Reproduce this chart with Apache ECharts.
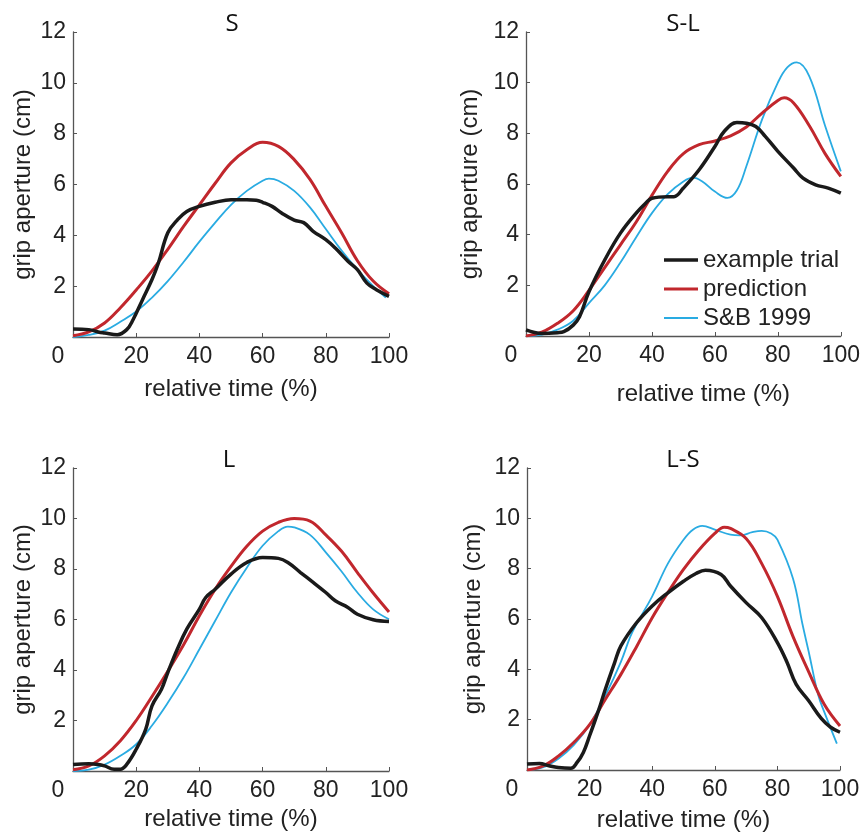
<!DOCTYPE html>
<html>
<head>
<meta charset="utf-8">
<script src="https://cdn.jsdelivr.net/npm/echarts@6/dist/echarts.min.js"></script>
<style>
  html, body { margin: 0; padding: 0; background: #fff; }
  #chart { width: 863px; height: 833px; }
</style>
</head>
<body>
<div id="chart"></div>
<script>
// panel titles
const panels = ["S", "S-L", "L", "L-S"];
const seriesNames = ["example trial", "prediction", "S&B 1999"];
const xTicks = [0, 20, 40, 60, 80, 100];
const yTicks = [2, 4, 6, 8, 10, 12];

// S
const sBlackT = [0, 5, 8, 10, 14, 17, 19, 22, 25, 27, 30, 33, 36, 40, 45, 50, 55, 58, 60, 63, 66, 70, 73, 76, 80, 83, 87, 90, 93, 96, 100];
const sBlackY = [0.31, 0.29, 0.2, 0.16, 0.09, 0.29, 0.68, 1.47, 2.26, 2.9, 4.1, 4.6, 4.94, 5.14, 5.3, 5.4, 5.4, 5.38, 5.3, 5.14, 4.88, 4.6, 4.5, 4.16, 3.83, 3.5, 2.98, 2.65, 2.12, 1.86, 1.6];
const sPredT = [0, 5, 10, 15, 20, 25, 30, 35, 40, 45, 50, 55, 60, 65, 70, 75, 80, 85, 90, 95, 100];
const sPredY = [0.05, 0.2, 0.55, 1.15, 1.85, 2.6, 3.45, 4.35, 5.2, 6.05, 6.85, 7.37, 7.66, 7.5, 6.98, 6.2, 5.14, 4.1, 3.0, 2.2, 1.7];
const sSbT = [0, 5, 10, 15, 20, 25, 30, 35, 40, 45, 50, 55, 60, 62, 65, 70, 75, 80, 85, 90, 95, 99];
const sSbY = [0, 0.08, 0.25, 0.6, 1.0, 1.55, 2.2, 2.95, 3.75, 4.5, 5.2, 5.75, 6.15, 6.23, 6.15, 5.75, 5.1, 4.25, 3.4, 2.65, 2.0, 1.55];

// S-L
const slBlackT = [0, 5, 10, 12, 15, 17, 20, 25, 30, 35, 38, 40, 45, 47, 50, 55, 60, 63, 67, 70, 73, 76, 80, 85, 88, 92, 96, 100];
const slBlackY = [0.24, 0.1, 0.13, 0.17, 0.43, 0.76, 1.75, 3.0, 4.06, 4.85, 5.24, 5.44, 5.5, 5.5, 5.84, 6.56, 7.48, 8.08, 8.43, 8.4, 8.27, 7.88, 7.29, 6.63, 6.23, 5.97, 5.84, 5.64];
const slPredT = [0, 5, 10, 15, 20, 25, 30, 35, 40, 45, 50, 55, 60, 65, 70, 75, 80, 82, 85, 90, 95, 100];
const slPredY = [0, 0.15, 0.5, 1.0, 1.8, 2.7, 3.6, 4.5, 5.55, 6.5, 7.2, 7.55, 7.7, 7.9, 8.25, 8.8, 9.3, 9.4, 9.2, 8.3, 7.2, 6.3];
const slSbT = [0, 5, 10, 15, 20, 25, 30, 35, 40, 45, 50, 53, 56, 60, 64, 67, 70, 75, 80, 83, 86, 90, 95, 100];
const slSbY = [0, 0.05, 0.25, 0.6, 1.3, 2.0, 2.9, 3.9, 4.85, 5.6, 6.1, 6.25, 6.1, 5.7, 5.45, 5.75, 6.7, 8.55, 10.0, 10.6, 10.8, 10.25, 8.3, 6.5];

// L
const lBlackT = [0, 5, 8, 10, 13, 15, 17, 20, 23, 25, 28, 30, 33, 36, 40, 42, 45, 50, 55, 60, 65, 68, 72, 76, 80, 83, 87, 90, 95, 100];
const lBlackY = [0.26, 0.29, 0.26, 0.2, 0.07, 0.07, 0.26, 0.86, 1.65, 2.58, 3.24, 3.9, 4.82, 5.62, 6.41, 6.87, 7.2, 7.8, 8.26, 8.46, 8.42, 8.26, 7.86, 7.47, 7.07, 6.74, 6.48, 6.21, 5.99, 5.92];
const lPredT = [0, 5, 10, 15, 20, 25, 30, 35, 40, 45, 50, 55, 60, 65, 70, 75, 80, 85, 90, 95, 100];
const lPredY = [0.05, 0.2, 0.6, 1.2, 2.0, 2.95, 3.95, 5.0, 6.15, 7.2, 8.1, 8.9, 9.5, 9.85, 10.0, 9.9, 9.35, 8.7, 7.86, 7.05, 6.3];
const lSbT = [0, 5, 10, 15, 20, 25, 30, 35, 40, 45, 50, 55, 60, 65, 68, 70, 75, 80, 85, 90, 95, 100];
const lSbY = [0, 0.05, 0.25, 0.6, 1.06, 1.8, 2.7, 3.7, 4.82, 5.95, 7.07, 8.05, 8.92, 9.5, 9.68, 9.65, 9.35, 8.66, 7.9, 7.07, 6.4, 6.01];

// L-S
const lsBlackT = [0, 4, 7, 10, 14, 16, 18, 20, 23, 25, 28, 30, 35, 40, 45, 50, 54, 57, 62, 65, 70, 75, 80, 83, 86, 90, 94, 97, 100];
const lsBlackY = [0.24, 0.26, 0.17, 0.1, 0.07, 0.3, 0.7, 1.36, 2.42, 3.2, 4.27, 4.93, 5.85, 6.52, 7.04, 7.5, 7.81, 7.94, 7.77, 7.31, 6.65, 6.05, 5.06, 4.3, 3.4, 2.75, 2.05, 1.7, 1.5];
const lsPredT = [0, 5, 10, 15, 20, 25, 30, 35, 40, 45, 50, 55, 60, 63, 65, 70, 75, 80, 85, 90, 95, 100];
const lsPredY = [0, 0.15, 0.55, 1.1, 1.8, 2.8, 3.8, 4.9, 6.05, 7.05, 7.97, 8.75, 9.4, 9.65, 9.6, 9.2, 8.2, 6.9, 5.3, 3.9, 2.6, 1.75];
const lsSbT = [0, 5, 10, 15, 20, 25, 30, 33, 35, 40, 45, 50, 53, 56, 60, 65, 68, 72, 75, 78, 80, 85, 88, 90, 93, 95, 99];
const lsSbY = [0, 0.1, 0.45, 1.0, 1.8, 2.95, 4.3, 5.3, 5.8, 6.9, 8.2, 9.15, 9.55, 9.7, 9.55, 9.35, 9.32, 9.45, 9.5, 9.4, 9.15, 7.6, 5.8, 4.7, 3.0, 2.3, 1.05];

const curves = [
    [[sBlackT, sBlackY], [sPredT, sPredY], [sSbT, sSbY]],
    [[slBlackT, slBlackY], [slPredT, slPredY], [slSbT, slSbY]],
    [[lBlackT, lBlackY], [lPredT, lPredY], [lSbT, lSbY]],
    [[lsBlackT, lsBlackY], [lsPredT, lsPredY], [lsSbT, lsSbY]],
];

const colors = ["#1a1a1a", "#c1272d", "#29abe2"];
const widths = [3.5, 3, 1.8];

// pixel layout of each panel
const grids = [
    { left: 73, top: 32, width: 316, height: 305 },
    { left: 526, top: 32, width: 316, height: 304 },
    { left: 73, top: 468, width: 316, height: 303 },
    { left: 527, top: 468, width: 313, height: 302 },
];
const yNameGap = [38, 44, 38, 42];
const xNameGap = [40, 46, 36, 38];
const xNamePad = [[0, 0, 0, 0], [0, 0, 0, 40], [0, 0, 0, 0], [0, 0, 0, 0]];
const titleX = [232, 683, 229, 683];
const titleTop = [12, 12, 448, 448];

const tickFont = "'Liberation Sans', Arial, sans-serif";
const axisColor = "#555";

function pairs(t, y) {
    return t.map((v, i) => [v, y[i]]);
}

let xAxes = [];
let yAxes = [];
let titles = [];
let series = [];
grids.forEach((g, i) => {
    titles.push({
        text: panels[i],
        left: titleX[i],
        top: titleTop[i],
        padding: 0,
        textAlign: "center",
        textStyle: {
            fontFamily: "'Open Sans', sans-serif",
            fontSize: 24,
            fontWeight: "normal",
            color: "#111",
        },
    });
    xAxes.push({
        gridIndex: i,
        type: "value",
        min: 0,
        max: 100,
        interval: 20,
        name: "relative time (%)",
        nameLocation: "middle",
        nameGap: xNameGap[i],
        nameTextStyle: { fontFamily: tickFont, fontSize: 24, color: "#222", padding: xNamePad[i] },
        axisLine: { lineStyle: { color: axisColor, width: 1.3 } },
        axisTick: { inside: true, length: 4, lineStyle: { color: axisColor } },
        axisLabel: {
            fontFamily: tickFont,
            fontSize: 23,
            color: "#222",
            margin: 8,
            formatter: (v) => (v === 0 ? "{z|0}" : String(v)),
            rich: { z: { fontFamily: tickFont, fontSize: 23, color: "#222", padding: [0, 30, 0, 0] } },
        },
        splitLine: { show: false },
    });
    yAxes.push({
        gridIndex: i,
        type: "value",
        min: 0,
        max: 12,
        interval: 2,
        name: "grip aperture (cm)",
        nameLocation: "middle",
        nameGap: yNameGap[i],
        nameTextStyle: { fontFamily: tickFont, fontSize: 24, color: "#222" },
        axisLine: { show: true, lineStyle: { color: axisColor, width: 1.3 } },
        axisTick: { show: true, inside: true, length: 4, lineStyle: { color: axisColor } },
        axisLabel: {
            fontFamily: tickFont,
            fontSize: 23,
            color: "#222",
            margin: 7,
            formatter: (v) => (v === 0 ? "" : String(v)),
        },
        splitLine: { show: false },
    });
    curves[i].forEach((c, k) => {
        series.push({
            name: seriesNames[k],
            type: "line",
            xAxisIndex: i,
            yAxisIndex: i,
            data: pairs(c[0], c[1]),
            smooth: 0.4,
            symbol: "none",
            z: 3 - k,
            lineStyle: { color: colors[k], width: widths[k] },
            itemStyle: { color: colors[k] },
        });
    });
});

let myChart = echarts.init(document.getElementById("chart"));
myChart.setOption({
    animation: false,
    backgroundColor: "#fff",
    title: titles,
    legend: {
        data: seriesNames.map((n, k) => ({
            name: n,
            icon: "path://M0,0h34v" + widths[k] + "h-34z",
        })),
        orient: "vertical",
        left: 664,
        top: 248,
        padding: 0,
        itemWidth: 34,
        itemHeight: 14,
        itemGap: 5,
        textStyle: { fontFamily: tickFont, fontSize: 24, color: "#222", lineHeight: 24 },
    },
    grid: grids,
    xAxis: xAxes,
    yAxis: yAxes,
    series: series,
});
</script>
</body>
</html>
